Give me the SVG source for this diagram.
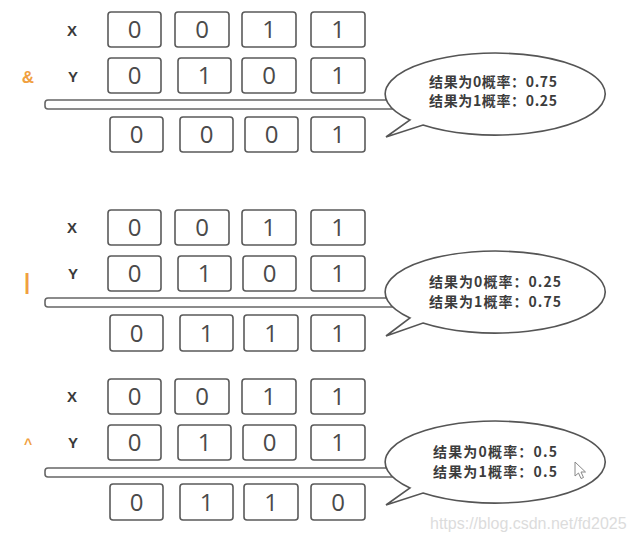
<svg xmlns="http://www.w3.org/2000/svg" width="633" height="542" viewBox="0 0 633 542">
<style>
.box{fill:#fff;stroke:#5a5a5a;stroke-width:1.6}
.dig{font-family:"Open Sans","Liberation Sans",sans-serif;font-size:24px;fill:#4a4a4a;text-anchor:middle}
.lbl{font-family:"Liberation Sans","DejaVu Sans",sans-serif;font-size:15px;font-weight:bold;fill:#3a3a3a;text-anchor:middle}
.op{font-family:"Liberation Sans","DejaVu Sans",sans-serif;fill:#f0a040;text-anchor:middle;font-weight:bold}
.bar{fill:#fff;stroke:#666;stroke-width:1.6}
.bub{fill:#fff;stroke:#555;stroke-width:1.6;stroke-linejoin:miter}
.bt{font-family:"Noto Sans CJK SC","Noto Sans",sans-serif;font-size:14px;font-weight:bold;fill:#3c3c3c}
.wm{font-family:"Liberation Sans","DejaVu Sans",sans-serif;font-size:16px;fill:#dcdcdc}
</style>
<rect width="633" height="542" fill="#fff"/>

<!-- Section 1: AND -->
<g id="and-op"><text class="op" x="28" y="83" font-size="17">&amp;</text></g>
<g id="and-label-x"><text class="lbl" x="72" y="36">X</text></g>
<g id="and-label-y"><text class="lbl" x="73" y="82">Y</text></g>
<g id="and-x1"><rect class="box" x="108" y="12" width="53" height="35" rx="3"/><text class="dig" x="134.5" y="38">0</text></g>
<g id="and-x2"><rect class="box" x="175" y="12" width="54" height="35" rx="3"/><text class="dig" x="202" y="38">0</text></g>
<g id="and-x3"><rect class="box" x="242" y="12" width="54" height="35" rx="3"/><text class="dig" x="269" y="38">1</text></g>
<g id="and-x4"><rect class="box" x="311" y="12" width="54" height="35" rx="3"/><text class="dig" x="338" y="38">1</text></g>
<g id="and-y1"><rect class="box" x="108" y="58" width="53" height="35" rx="3"/><text class="dig" x="134.5" y="84">0</text></g>
<g id="and-y2"><rect class="box" x="178" y="58" width="53" height="35" rx="3"/><text class="dig" x="204.5" y="84">1</text></g>
<g id="and-y3"><rect class="box" x="242" y="58" width="54" height="35" rx="3"/><text class="dig" x="269" y="84">0</text></g>
<g id="and-y4"><rect class="box" x="311" y="58" width="54" height="35" rx="3"/><text class="dig" x="338" y="84">1</text></g>
<g id="and-r1"><rect class="box" x="110" y="117" width="53" height="35" rx="3"/><text class="dig" x="136.5" y="143">0</text></g>
<g id="and-r2"><rect class="box" x="180" y="117" width="53" height="35" rx="3"/><text class="dig" x="206.5" y="143">0</text></g>
<g id="and-r3"><rect class="box" x="245" y="117" width="53" height="35" rx="3"/><text class="dig" x="271.5" y="143">0</text></g>
<g id="and-r4"><rect class="box" x="311" y="117" width="54" height="35" rx="3"/><text class="dig" x="338" y="143">1</text></g>

<!-- Section 2: OR -->
<g id="or-op"><text class="op" x="27" y="289" font-size="22" font-weight="normal">|</text></g>
<g id="or-label-x"><text class="lbl" x="72" y="233">X</text></g>
<g id="or-label-y"><text class="lbl" x="73" y="279">Y</text></g>
<g id="or-x1"><rect class="box" x="108" y="210" width="53" height="35" rx="3"/><text class="dig" x="134.5" y="236">0</text></g>
<g id="or-x2"><rect class="box" x="175" y="210" width="54" height="35" rx="3"/><text class="dig" x="202" y="236">0</text></g>
<g id="or-x3"><rect class="box" x="242" y="210" width="54" height="35" rx="3"/><text class="dig" x="269" y="236">1</text></g>
<g id="or-x4"><rect class="box" x="311" y="210" width="54" height="35" rx="3"/><text class="dig" x="338" y="236">1</text></g>
<g id="or-y1"><rect class="box" x="108" y="256" width="53" height="35" rx="3"/><text class="dig" x="134.5" y="282">0</text></g>
<g id="or-y2"><rect class="box" x="178" y="256" width="53" height="35" rx="3"/><text class="dig" x="204.5" y="282">1</text></g>
<g id="or-y3"><rect class="box" x="243" y="256" width="53" height="35" rx="3"/><text class="dig" x="269.5" y="282">0</text></g>
<g id="or-y4"><rect class="box" x="311" y="256" width="54" height="35" rx="3"/><text class="dig" x="338" y="282">1</text></g>
<g id="or-r1"><rect class="box" x="110" y="315" width="53" height="36" rx="3"/><text class="dig" x="136.5" y="342">0</text></g>
<g id="or-r2"><rect class="box" x="180" y="315" width="53" height="36" rx="3"/><text class="dig" x="206.5" y="342">1</text></g>
<g id="or-r3"><rect class="box" x="244" y="315" width="54" height="36" rx="3"/><text class="dig" x="271" y="342">1</text></g>
<g id="or-r4"><rect class="box" x="311" y="315" width="54" height="36" rx="3"/><text class="dig" x="338" y="342">1</text></g>

<!-- Section 3: XOR -->
<g id="xor-op"><text class="op" x="28" y="449" font-size="14">^</text></g>
<g id="xor-label-x"><text class="lbl" x="72" y="402">X</text></g>
<g id="xor-label-y"><text class="lbl" x="73" y="448">Y</text></g>
<g id="xor-x1"><rect class="box" x="108" y="379" width="53" height="35" rx="3"/><text class="dig" x="134.5" y="405">0</text></g>
<g id="xor-x2"><rect class="box" x="175" y="379" width="54" height="35" rx="3"/><text class="dig" x="202" y="405">0</text></g>
<g id="xor-x3"><rect class="box" x="242" y="379" width="54" height="35" rx="3"/><text class="dig" x="269" y="405">1</text></g>
<g id="xor-x4"><rect class="box" x="311" y="379" width="54" height="35" rx="3"/><text class="dig" x="338" y="405">1</text></g>
<g id="xor-y1"><rect class="box" x="108" y="425" width="53" height="35" rx="3"/><text class="dig" x="134.5" y="451">0</text></g>
<g id="xor-y2"><rect class="box" x="178" y="425" width="53" height="35" rx="3"/><text class="dig" x="204.5" y="451">1</text></g>
<g id="xor-y3"><rect class="box" x="243" y="425" width="53" height="35" rx="3"/><text class="dig" x="269.5" y="451">0</text></g>
<g id="xor-y4"><rect class="box" x="311" y="425" width="54" height="35" rx="3"/><text class="dig" x="338" y="451">1</text></g>
<g id="xor-r1"><rect class="box" x="110" y="484" width="53" height="36" rx="3"/><text class="dig" x="136.5" y="511">0</text></g>
<g id="xor-r2"><rect class="box" x="180" y="484" width="53" height="36" rx="3"/><text class="dig" x="206.5" y="511">1</text></g>
<g id="xor-r3"><rect class="box" x="244" y="484" width="54" height="36" rx="3"/><text class="dig" x="271" y="511">1</text></g>
<g id="xor-r4"><rect class="box" x="311" y="484" width="54" height="36" rx="3"/><text class="dig" x="338" y="511">0</text></g>

<!-- bars (no real connectors) -->
<g id="connectors">
<rect class="bar" x="45" y="100" width="350" height="9" rx="3"/>
<rect class="bar" x="45" y="298" width="350" height="9" rx="3"/>
<rect class="bar" x="45" y="468" width="350" height="9" rx="3"/>
</g>

<!-- bubbles -->
<g id="bubble-and">
<path class="bub" d="M423 125 A110 41 0 1 0 410 120 L386 137 Z"/>
<text class="bt" x="429" y="87" textLength="128" lengthAdjust="spacing">结果为0概率：0.75</text>
<text class="bt" x="429" y="106" textLength="128" lengthAdjust="spacing">结果为1概率：0.25</text>
</g>
<g id="bubble-or">
<path class="bub" d="M423 323 A110 41 0 1 0 410 318 L386 336 Z"/>
<text class="bt" x="429" y="287" textLength="132" lengthAdjust="spacing">结果为0概率：0.25</text>
<text class="bt" x="429" y="307" textLength="132" lengthAdjust="spacing">结果为1概率：0.75</text>
</g>
<g id="bubble-xor">
<path class="bub" d="M423 493 A110 41 0 1 0 410 488 L386 505 Z"/>
<text class="bt" x="433" y="457" textLength="124" lengthAdjust="spacing">结果为0概率：0.5</text>
<text class="bt" x="433" y="477" textLength="124" lengthAdjust="spacing">结果为1概率：0.5</text>
<path d="M575 462 L575 476 L578.5 473 L581 478.5 L583.5 477.5 L581 472 L585.5 472 Z" fill="#fff" stroke="#888" stroke-width="1"/>
</g>

<g id="watermark"><text class="wm" x="430" y="529">https://blog.csdn.net/fd2025</text></g>
</svg>
